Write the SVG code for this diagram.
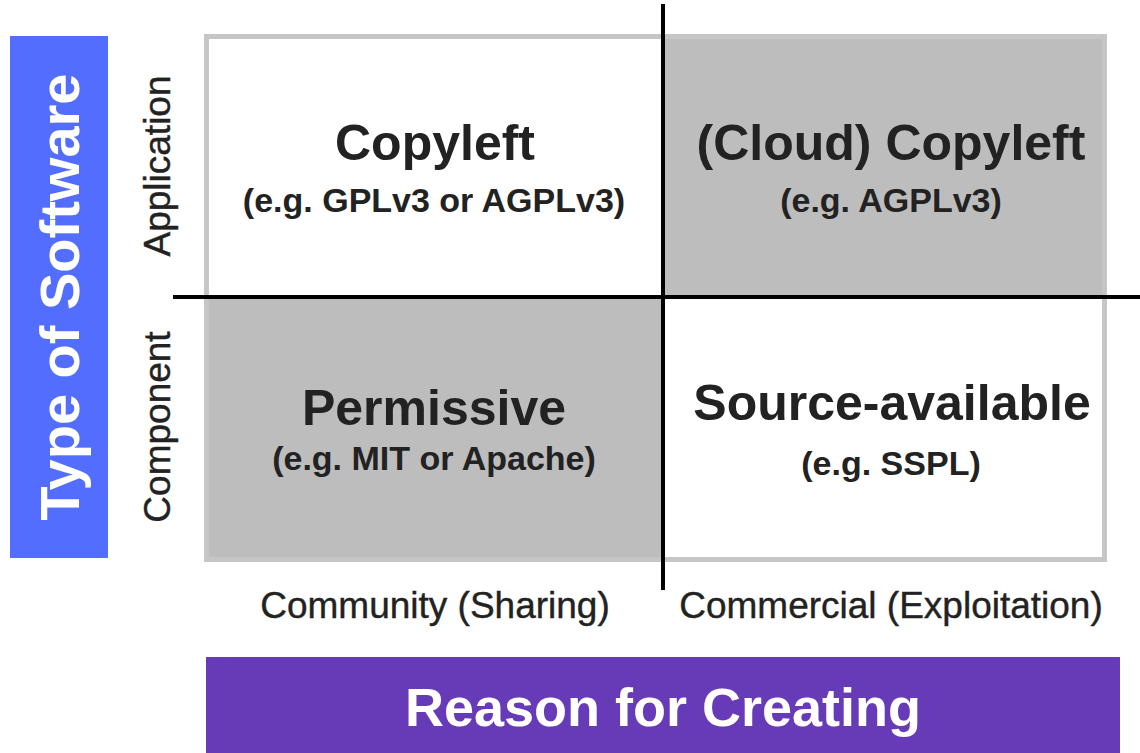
<svg xmlns="http://www.w3.org/2000/svg" width="1140" height="753" viewBox="0 0 1140 753">
  <style>
    .bold { font-family: "Liberation Sans", Arial, sans-serif; font-weight: bold; fill: #222222; text-anchor: middle; }
    .title { font-size: 50px; }
    .sub { font-size: 34px; }
    .axis { font-family: "Liberation Sans", Arial, sans-serif; font-size: 37px; fill: #222222; stroke: #222222; stroke-width: 0.4; text-anchor: middle; }
    .banner { font-family: "Liberation Sans", Arial, sans-serif; font-weight: bold; fill: #ffffff; text-anchor: middle; }
    .cellWhite { fill: #ffffff; }
    .cellGray { fill: #bdbdbd; }
    .divider { stroke: #000000; stroke-width: 4; fill: none; }
  </style>
  <rect width="1140" height="753" fill="#ffffff"/>

  <g id="type-of-software">
    <rect x="10" y="36" width="98" height="522" fill="#536dfe"/>
    <text class="banner" font-size="56" transform="translate(79,297) rotate(-90)">Type of Software</text>
  </g>

  <g id="label-application">
    <text class="axis" transform="translate(170,166) rotate(-90)">Application</text>
  </g>
  <g id="label-component">
    <text class="axis" transform="translate(170,427) rotate(-90)">Component</text>
  </g>

  <g id="cell-copyleft">
    <rect class="cellWhite" x="204" y="34" width="459" height="263"/>
    <text class="bold title" x="435" y="160">Copyleft</text>
    <text class="bold sub" x="434" y="212">(e.g. GPLv3 or AGPLv3)</text>
  </g>
  <g id="cell-cloud-copyleft">
    <rect class="cellGray" x="663" y="34" width="444" height="263"/>
    <text class="bold title" x="891" y="160">(Cloud) Copyleft</text>
    <text class="bold sub" x="891" y="212">(e.g. AGPLv3)</text>
  </g>
  <g id="cell-permissive">
    <rect class="cellGray" x="204" y="297" width="459" height="265"/>
    <text class="bold title" x="434" y="425">Permissive</text>
    <text class="bold sub" x="434" y="470">(e.g. MIT or Apache)</text>
  </g>
  <g id="cell-source-available">
    <rect class="cellWhite" x="663" y="297" width="444" height="265"/>
    <text class="bold title" x="892" y="420">Source-available</text>
    <text class="bold sub" x="891" y="475">(e.g. SSPL)</text>
  </g>

  <rect x="206.5" y="36.5" width="898" height="523" fill="none" stroke="#c6c6c6" stroke-width="5"/>

  <g id="connectors">
    <line class="divider" x1="663" y1="4" x2="663" y2="590"/>
    <line class="divider" x1="173" y1="297" x2="1140" y2="297"/>
  </g>

  <g id="label-community">
    <text class="axis" x="435" y="618">Community (Sharing)</text>
  </g>
  <g id="label-commercial">
    <text class="axis" x="891" y="618">Commercial (Exploitation)</text>
  </g>

  <g id="reason-for-creating">
    <rect x="206" y="657" width="914" height="96" fill="#673ab7"/>
    <text class="banner" font-size="54" x="663" y="726">Reason for Creating</text>
  </g>
</svg>
